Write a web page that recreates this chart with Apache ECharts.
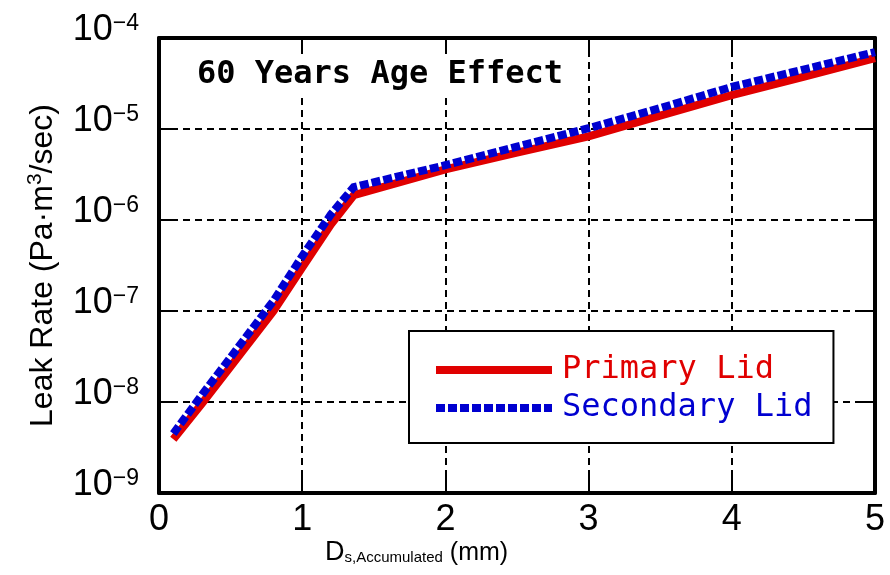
<!DOCTYPE html>
<html>
<head>
<meta charset="utf-8">
<script src="https://cdn.jsdelivr.net/npm/echarts@6/dist/echarts.min.js"></script>
<style>
  html, body { margin: 0; padding: 0; background: #ffffff; }
  #chart { width: 890px; height: 575px; }
</style>
</head>
<body>
<div id="chart"></div>
<script>
// Accumulated sliding distance (mm) at which the leak rate is given
const depthMm = [0.1, 0.3, 0.5, 0.8, 1.0, 1.2, 1.36, 2.0, 2.5, 3.0, 3.5, 4.0, 4.5, 5.0];
// Leak rate (Pa·m3/sec), 60-year ageing
const primaryLeak   = [3.9e-9, 9.6e-9, 2.45e-8, 1.0e-7, 3.0e-7, 8.9e-7, 1.87e-6, 3.6e-6, 5.5e-6, 8.3e-6, 1.4e-5, 2.35e-5, 3.75e-5, 6.0e-5];
const secondaryLeak = [4.5e-9, 1.2e-8, 3.1e-8, 1.3e-7, 4.0e-7, 1.15e-6, 2.3e-6, 4.0e-6, 6.4e-6, 1.02e-5, 1.7e-5, 2.9e-5, 4.5e-5, 7.0e-5];
const seriesNames = ['Primary Lid', 'Secondary Lid'];
const xTicks = [0, 1, 2, 3, 4, 5];
const yDecades = [-9, -8, -7, -6, -5, -4];

const RED = '#e00000';
const BLUE = '#0000d0';
const SANS = "'Liberation Sans', Arial, sans-serif";
const MONO = "'DejaVu Sans Mono', 'Liberation Mono', monospace";

const pairs = (ys) => depthMm.map((x, i) => [x, ys[i]]);

const gridDash = { color: '#000', width: 2, type: [7, 5] };
const frameLine = { show: true, onZero: false, lineStyle: { color: '#000', width: 4 } };
const tickIn = { show: true, inside: true, length: 16, lineStyle: { color: '#000', width: 2 } };

const chart = echarts.init(document.getElementById('chart'), null, { renderer: 'canvas' });

chart.setOption({
  backgroundColor: '#ffffff',
  animation: false,
  title: [
    {
      text: '60 Years Age Effect',
      left: 193, top: 54,
      padding: [2, 4],
      backgroundColor: '#ffffff',
      textStyle: { fontFamily: MONO, fontSize: 32, fontWeight: 'bold', color: '#000', lineHeight: 38 }
    },
    {
      text: '{d|D}{s|s,Accumulated}{p| (mm)}',
      left: 325, top: 538,
      padding: 0,
      textStyle: {
        fontWeight: 'normal',
        rich: {
          d: { fontFamily: SANS, fontWeight: 'normal', fontSize: 27, lineHeight: 28, verticalAlign: 'bottom', color: '#000' },
          s: { fontFamily: SANS, fontWeight: 'normal', fontSize: 15, lineHeight: 17, verticalAlign: 'bottom', color: '#000', padding: [0, 0, 1, 0] },
          p: { fontFamily: SANS, fontWeight: 'normal', fontSize: 25, lineHeight: 28, verticalAlign: 'bottom', color: '#000' }
        }
      }
    }
  ],
  legend: {
    left: 409, top: 331,
    orient: 'vertical',
    backgroundColor: '#ffffff',
    borderColor: '#000',
    borderWidth: 2,
    borderRadius: 0,
    padding: [20, 21, 16, 23],
    itemGap: 0,
    itemWidth: 116,
    itemHeight: 14,
    lineStyle: { width: 'inherit', type: 'inherit' },
    itemStyle: { opacity: 0 },
    textStyle: { fontFamily: MONO, fontSize: 32, lineHeight: 38, padding: [0, 0, 0, 5] },
    data: [
      { name: seriesNames[0], textStyle: { color: RED } },
      { name: seriesNames[1], textStyle: { color: BLUE } }
    ]
  },
  grid: { left: 159, right: 15, top: 38, bottom: 82, containLabel: false },
  xAxis: [
    {
      type: 'value', min: xTicks[0], max: xTicks[xTicks.length - 1], interval: 1,
      axisLine: frameLine, axisTick: tickIn,
      splitLine: { show: true, lineStyle: gridDash },
      axisLabel: {
        margin: 9,
        fontFamily: SANS, fontSize: 36, lineHeight: 36, color: '#000',
        formatter: (v) => String(v)
      }
    },
    {
      type: 'value', position: 'top', min: xTicks[0], max: xTicks[xTicks.length - 1], interval: 1,
      axisLine: frameLine, axisTick: tickIn, splitLine: { show: false }, axisLabel: { show: false }
    }
  ],
  yAxis: [
    {
      type: 'log', logBase: 10,
      min: Math.pow(10, yDecades[0]), max: Math.pow(10, yDecades[yDecades.length - 1]),
      axisLine: frameLine, axisTick: tickIn,
      splitLine: { show: true, lineStyle: gridDash },
      minorTick: { show: false },
      axisLabel: {
        margin: 20,
        padding: [0, 0, 16, 0],
        formatter: (v) => {
          const e = Math.round(Math.log10(v));
          return '{b|10}{e|\u2212' + Math.abs(e) + '}';
        },
        rich: {
          b: { fontFamily: SANS, fontSize: 36, lineHeight: 36, color: '#000' },
          e: { fontFamily: SANS, fontSize: 23, lineHeight: 23, verticalAlign: 'top', color: '#000' }
        }
      },
      name: 'Leak Rate (Pa\u00b7m{sup|3}/sec)',
      nameLocation: 'middle',
      nameGap: 98,
      nameTextStyle: {
        fontFamily: SANS, fontSize: 32, color: '#000', lineHeight: 36,
        rich: {
          sup: { fontFamily: SANS, fontSize: 21, lineHeight: 36, verticalAlign: 'top', color: '#000' }
        }
      }
    },
    {
      type: 'log', logBase: 10, position: 'right',
      min: Math.pow(10, yDecades[0]), max: Math.pow(10, yDecades[yDecades.length - 1]),
      axisLine: frameLine, axisTick: tickIn, splitLine: { show: false }, axisLabel: { show: false }
    }
  ],
  series: [
    {
      name: seriesNames[0], type: 'line', data: pairs(primaryLeak),
      symbol: 'none', z: 3,
      lineStyle: { color: RED, width: 8, cap: 'butt', join: 'miter' },
      itemStyle: { color: RED }
    },
    {
      name: seriesNames[1], type: 'line', data: pairs(secondaryLeak),
      symbol: 'none', z: 4,
      lineStyle: { color: BLUE, width: 8, type: [9, 3], cap: 'butt', join: 'miter' },
      itemStyle: { color: BLUE }
    }
  ]
});
</script>
</body>
</html>
